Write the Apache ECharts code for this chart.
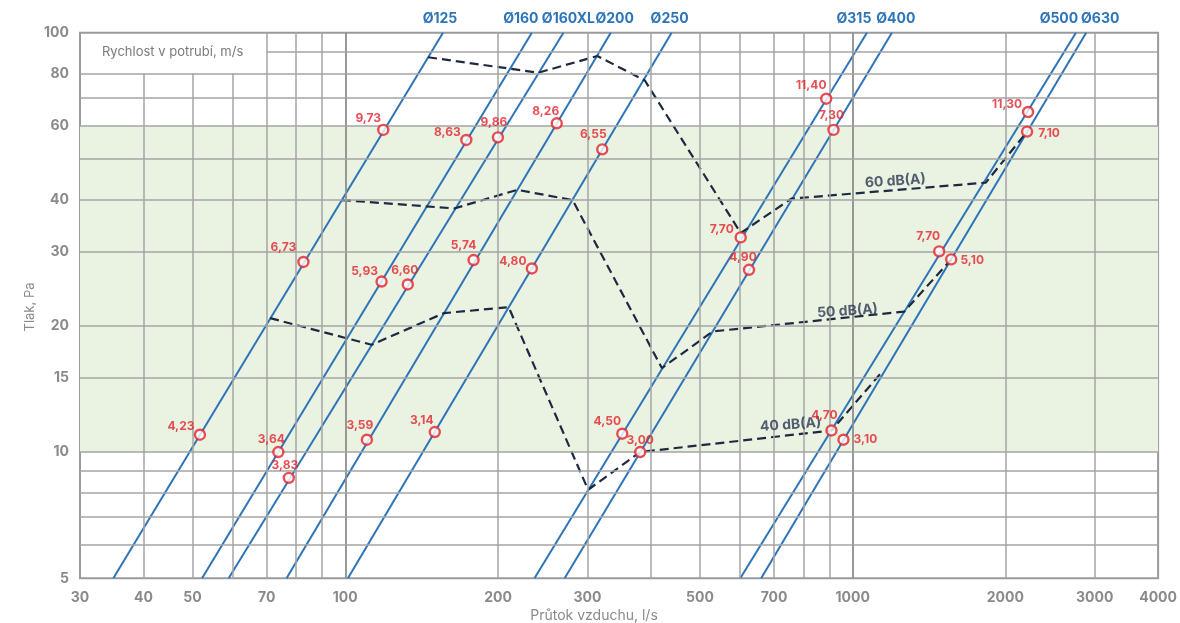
<!DOCTYPE html>
<html><head><meta charset="utf-8">
<script src="https://cdn.jsdelivr.net/npm/echarts@6/dist/echarts.min.js"></script>
<style>html,body{margin:0;padding:0;background:#fff}#c{width:1180px;height:623px}</style>
</head><body><div id="c"></div>
<script>
// ---- data ----
const ductNames = ['Ø125','Ø160','Ø160XL','Ø200','Ø250','Ø315','Ø400','Ø500','Ø630'];
const ductFlowAt5Pa = [34.9, 52.2, 58.9, 76.6, 101.2, 236.0, 270.6, 600.6, 660.2];
const ductFlowAt100Pa = [155.8, 233.2, 269.1, 333.6, 439.7, 1067, 1195, 2755, 2886];

const pointFlow = [118.8,173.2,199.9,261.1,321.0,887,916.7,2217,2207,
                   82.7,117.9,132.8,179.0,233.2,601.7,624.8,1481,1564,
                   51.7,73.8,77.4,110.3,150.1,351.5,381.3,908.4,959.2];
const pointPressure = [58.65,55.5,56.3,60.8,52.7,69.6,58.65,64.7,58.1,
                       28.4,25.5,25.1,28.7,27.4,32.5,27.2,30.1,28.8,
                       11.0,10.0,8.68,10.7,11.16,11.06,10.0,11.26,10.7];
const pointVelocity = ['9,73','8,63','9,86','8,26','6,55','11,40','7,30','11,30','7,10',
                       '6,73','5,93','6,60','5,74','4,80','7,70','4,90','7,70','5,10',
                       '4,23','3,64','3,83','3,59','3,14','4,50','3,00','4,70','3,10'];

const noise60Flow = [145.6, 240.3, 314.0, 389.5, 601.7, 757.1, 1830, 2207];
const noise60Pressure = [87.4, 80.3, 88.0, 76.9, 33.3, 40.2, 43.9, 58.1];
const noise50Flow = [98.5, 164.0, 218.2, 280.5, 420.7, 530.1, 1264, 1564];
const noise50Pressure = [39.9, 38.1, 42.2, 39.9, 15.86, 19.39, 21.63, 28.8];
const noise40Flow = [71.1, 112.7, 156.4, 209.9, 301.0, 381.3, 908.4, 1137.6];
const noise40Pressure = [20.86, 18.02, 21.44, 22.16, 8.13, 10.0, 11.26, 15.43];
const noiseLabels = ['60 dB(A)', '50 dB(A)', '40 dB(A)'];
const noiseLabelFlow = [1214, 976.8, 754.6];
const noiseLabelPressure = [44.3, 21.7, 11.62];

const xTickLabels = [30,40,50,70,100,200,300,500,700,1000,2000,3000,4000];
const yTickLabels = [5,10,15,20,30,40,60,80,100];
const xGridValues = [40,50,60,70,80,90,100,200,300,400,500,600,700,800,900,1000,2000,3000];
const yGridValues = [6,7,8,9,10,15,20,30,40,50,60,70,80,90];
const comfortBand = [10, 60];

// ---- styles ----
const FONT = 'Inter, "Noto Sans", sans-serif';
const BLUE = '#2d74b8', RED = '#e4222a', NAVY = '#1d2940', GRID = '#a4a4a4';
const ductLabelOffset = [[-3,0],[-11,0],[5,0],[4,0],[-2,0],[-13,0],[4,0],[-17,0],[14,0]];
const pointLabelOffset = [[-15,-11],[-19,-8],[-4,-15],[-11,-12],[-9,-15],[-15,-13],[-2,-14],[-21,-8],[22,2],
                          [-20,-15],[-17,-10],[-3,-14],[-10,-15],[-19,-7],[-19,-8],[-6,-12],[-11,-15],[21,1],
                          [-19,-8],[-7,-13],[-4,-12],[-7,-14],[-13,-12],[-15,-12],[0,-12],[-7,-15],[22,0]];
const xMin = 30, xMax = 4000, yMin = 5, yMax = 100;
const labelBoxTop = 80, labelBoxRight = 70; // white box behind "Rychlost" caption

const gridLines = [];
xGridValues.forEach(v => {
  const top = (v < labelBoxRight) ? labelBoxTop : yMax;
  const strong = (v === 100 || v === 1000);
  gridLines.push([{coord:[v, yMin], lineStyle:{color: strong ? '#8e8e8e' : GRID, width: strong ? 1.8 : 1.5, type:'solid'}}, {coord:[v, top]}]);
});
yGridValues.forEach(v => {
  const left = (v > labelBoxTop) ? labelBoxRight : xMin;
  gridLines.push([{coord:[left, v]}, {coord:[xMax, v]}]);
});

const series = [];
series.push({
  type:'scatter', data:[], z:1, silent:true,
  markArea:{silent:true, itemStyle:{color:'#eaf2e2'}, data:[[{yAxis:comfortBand[0]},{yAxis:comfortBand[1]}]]}
});
series.push({
  type:'scatter', data:[], z:2, silent:true,
  markLine:{silent:true, symbol:['none','none'], label:{show:false},
    lineStyle:{color:GRID, width:1.5, type:'solid'}, data:gridLines}
});
ductNames.forEach((name, i) => {
  series.push({
    type:'line', name, z:3, silent:true, clip:false,
    symbol:'circle', symbolSize:0, showSymbol:true,
    lineStyle:{color:BLUE, width:2},
    data:[
      {value:[ductFlowAt5Pa[i], yMin], label:{show:false}},
      {value:[ductFlowAt100Pa[i], yMax], label:{show:true, position:'top', distance:7, offset:ductLabelOffset[i],
        formatter:name, color:BLUE, fontFamily:FONT, fontWeight:700, fontSize:14}}
    ]
  });
});
[[noise60Flow, noise60Pressure],[noise50Flow, noise50Pressure],[noise40Flow, noise40Pressure]].forEach(([f,p]) => {
  series.push({
    type:'line', z:4, silent:true, symbol:'none',
    lineStyle:{color:NAVY, width:2.2, type:[9,5]},
    data:f.map((x,k)=>[x,p[k]])
  });
});
series.push({
  type:'scatter', z:5, silent:true, symbolSize:0,
  data:noiseLabels.map((t,k)=>({value:[noiseLabelFlow[k], noiseLabelPressure[k]], name:t})),
  label:{show:true, position:'inside', formatter:'{b}', rotate:4, color:'#2a3751', fontFamily:FONT, fontWeight:700, fontSize:14}
});
series.push({
  type:'scatter', z:6, silent:true, symbol:'circle', symbolSize:10,
  itemStyle:{color:'#ffffff', borderColor:RED, borderWidth:2.4},
  data:pointFlow.map((x,k)=>({value:[x, pointPressure[k]], name:pointVelocity[k],
    label:{show:true, position:'inside', offset:pointLabelOffset[k]}})),
  label:{formatter:'{b}', color:RED, fontFamily:FONT, fontWeight:700, fontSize:12}
});

const chart = echarts.init(document.getElementById('c'), null, {renderer:'canvas'});
chart.setOption({
  animation:false,
  backgroundColor:'#ffffff',
  grid:{left:80, right:21.5, top:32.7, bottom:44.7, show:true, borderColor:'#9a9a9a', borderWidth:2, backgroundColor:'transparent'},
  xAxis:{type:'log', logBase:10, min:xMin, max:xMax,
    axisLine:{show:false}, axisTick:{show:false}, splitLine:{show:false}, minorSplitLine:{show:false},
    axisLabel:{customValues:xTickLabels, formatter:v=>String(Math.round(v)), margin:12, color:'#8a8a8a', fontFamily:FONT, fontWeight:700, fontSize:14, showMinLabel:true, showMaxLabel:true, hideOverlap:false}},
  yAxis:{type:'log', logBase:10, min:yMin, max:yMax,
    axisLine:{show:false}, axisTick:{show:false}, splitLine:{show:false}, minorSplitLine:{show:false},
    axisLabel:{customValues:yTickLabels, formatter:v=>String(Math.round(v)), margin:11, color:'#8a8a8a', fontFamily:FONT, fontWeight:700, fontSize:14, showMinLabel:true, showMaxLabel:true, hideOverlap:false}},
  graphic:[
    {type:'text', left:102, top:46, z:10, style:{text:'Rychlost v potrubí, m/s', fill:'#7a7a7a', font:'13px ' + FONT}},
    {type:'text', x:30, y:307, rotation:Math.PI/2, z:10, style:{text:'Tlak, Pa', fill:'#8a8a8a', font:'13px ' + FONT, align:'center', verticalAlign:'middle'}},
    {type:'text', x:594, y:616, z:10, style:{text:'Průtok vzduchu, l/s', fill:'#8a8a8a', font:'14px ' + FONT, align:'center', verticalAlign:'middle'}}
  ],
  series
});
</script></body></html>
